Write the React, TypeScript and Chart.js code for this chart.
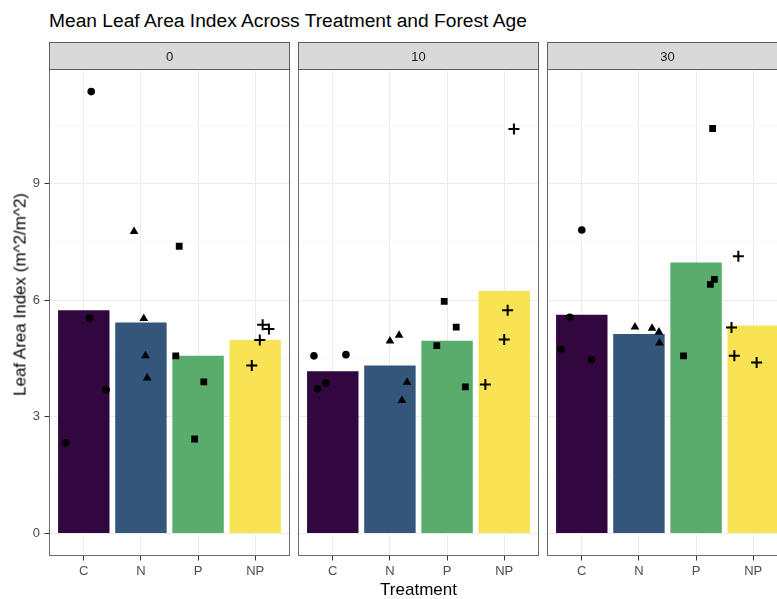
import React, { useEffect, useRef } from 'react';
import { Chart, registerables } from 'chart.js';

Chart.register(...registerables);

const FONT = '"Liberation Sans", Arial, Helvetica, sans-serif';

// Treatments and forest-age facets
const treatments = ['C', 'N', 'P', 'NP'];
const forestAges = ['0', '10', '30'];
const barColors = ['#32063F', '#33567A', '#5AAC6C', '#F8E355'];
const pointShapes = ['circle', 'triangle', 'rect', 'cross'];
const pointRadii = [3.8, 5, 4.8, 5.5];

// Mean leaf area index per treatment, one array per forest age
const meanLAI0 = [5.74, 5.43, 4.57, 4.98];
const meanLAI10 = [4.17, 4.32, 4.96, 6.24];
const meanLAI30 = [5.63, 5.13, 6.97, 5.35];

// Plot-level LAI (rows: C, N, P, NP)
const plotLAI0 = [
  [11.37, 5.54, 3.7, 2.33],
  [7.77, 5.53, 4.57, 4.0],
  [7.39, 4.57, 3.9, 2.43],
  [5.37, 5.26, 4.98, 4.32],
];
const plotLAI10 = [
  [4.57, 4.6, 3.72, 3.87],
  [4.95, 5.1, 3.89, 3.42],
  [5.97, 5.31, 4.83, 3.77],
  [10.41, 5.74, 4.99, 3.83],
];
const plotLAI30 = [
  [7.81, 5.56, 4.73, 4.47],
  [5.31, 5.28, 5.18, 4.9],
  [10.42, 6.54, 6.41, 4.57],
  [7.13, 5.3, 4.57, 4.4],
];

// Horizontal jitter of each plot point (category units)
const jitter0 = [
  [0.13, 0.1, 0.39, -0.32],
  [-0.12, 0.05, 0.08, 0.11],
  [-0.33, -0.39, 0.1, -0.06],
  [0.13, 0.24, 0.08, -0.06],
];
const jitter10 = [
  [-0.33, 0.23, -0.27, -0.12],
  [0.0, 0.16, 0.3, 0.21],
  [-0.05, 0.16, -0.18, 0.32],
  [0.17, 0.06, 0.0, -0.33],
];
const jitter30 = [
  [0.0, -0.21, -0.36, 0.17],
  [-0.07, 0.23, 0.35, 0.36],
  [0.29, 0.32, 0.25, -0.22],
  [-0.26, -0.38, -0.33, 0.06],
];

const yMajorTicks = [0, 3, 6, 9];
const yAllTicks = [0, 1.5, 3, 4.5, 6, 7.5, 9, 10.5];

const facetMeans = [meanLAI0, meanLAI10, meanLAI30];
const facetPlots = [plotLAI0, plotLAI10, plotLAI30];
const facetJitter = [jitter0, jitter10, jitter30];

// y range with 5% expansion around [0, max]
const allValues = facetPlots.flat(2);
const dataMax = Math.max(...allValues);
const yPad = dataMax * 0.05;
const Y_MIN = -yPad;
const Y_MAX = dataMax + yPad;

const TOP = 69.5;
const X_AXIS_H = 43.5;

const panelBorder = {
  id: 'panelBorder',
  afterDraw(chart: any) {
    const { ctx, chartArea: a } = chart;
    ctx.save();
    ctx.strokeStyle = '#6b6b6b';
    ctx.lineWidth = 1;
    ctx.strokeRect(a.left, a.top, a.right - a.left, a.bottom - a.top);
    ctx.restore();
  },
};

type PanelProps = {
  facet: number;
  left: number;
  width: number;
  padLeft: number;
  padRight: number;
  showY: boolean;
};

function Panel({ facet, left, width, padLeft, padRight, showY }: PanelProps) {
  const ref = useRef<HTMLCanvasElement>(null);

  useEffect(() => {
    if (!ref.current) return;
    const means = facetMeans[facet];
    const plots = facetPlots[facet];
    const jit = facetJitter[facet];

    const pointSets = treatments.map((t, i) => ({
      type: 'scatter' as const,
      label: `${t} plots`,
      data: plots[i].map((v, k) => ({ x: i + jit[i][k], y: v })),
      pointStyle: pointShapes[i],
      pointRadius: pointRadii[i],
      backgroundColor: '#000000',
      borderColor: '#000000',
      borderWidth: i === 3 ? 2 : 0,
      showLine: false,
      order: 1,
    }));

    const barSet = {
      type: 'bar' as const,
      label: 'Mean LAI',
      data: means.map((m, i) => ({ x: i, y: m })),
      backgroundColor: barColors,
      borderWidth: 0,
      barPercentage: 0.9,
      categoryPercentage: 1,
      order: 2,
    };

    const isMinor = (ctx: any) => ctx.tick && yMajorTicks.indexOf(ctx.tick.value) < 0;

    const chart = new Chart(ref.current, {
      type: 'bar',
      data: { datasets: [...pointSets, barSet] as any },
      options: {
        animation: false,
        responsive: false,
        events: [],
        layout: {
          autoPadding: false,
          padding: { top: TOP, left: padLeft, right: padRight, bottom: 0 },
        },
        plugins: { legend: { display: false }, tooltip: { enabled: false } },
        scales: {
          x: {
            type: 'linear',
            min: -0.6,
            max: 3.6,
            offset: false,
            afterBuildTicks: (s: any) => {
              s.ticks = treatments.map((_, i) => ({ value: i }));
            },
            afterFit: (s: any) => {
              s.height = X_AXIS_H;
              s.paddingLeft = 0;
              s.paddingRight = 0;
            },
            ticks: {
              autoSkip: false,
              maxRotation: 0,
              padding: 3,
              color: '#4D4D4D',
              font: { family: FONT, size: 13 },
              callback: (_v: any, i: number) => treatments[i] ?? '',
            },
            grid: {
              offset: false,
              color: '#EBEBEB',
              lineWidth: 1,
              tickLength: 5,
              tickColor: '#333333',
              tickWidth: 1,
            },
            border: { display: false },
          },
          y: {
            type: 'linear',
            min: Y_MIN,
            max: Y_MAX,
            afterBuildTicks: (s: any) => {
              s.ticks = yAllTicks.map((v) => ({ value: v }));
            },
            afterFit: (s: any) => {
              s.width = showY ? 49.5 : 0;
            },
            ticks: {
              display: showY,
              autoSkip: false,
              padding: 4.5,
              color: '#4D4D4D',
              font: { family: FONT, size: 13 },
              callback: (v: any) => (yMajorTicks.indexOf(v) >= 0 ? String(v) : ''),
            },
            grid: {
              color: (ctx: any) => (isMinor(ctx) ? '#F0F0F0' : '#EBEBEB'),
              lineWidth: (ctx: any) => (isMinor(ctx) ? 0.6 : 1),
              drawTicks: showY,
              tickLength: 5,
              tickColor: (ctx: any) => (isMinor(ctx) ? 'rgba(0,0,0,0)' : '#333333'),
              tickWidth: 1,
            },
            border: { display: false },
          },
        },
      },
      plugins: [panelBorder],
    });
    return () => chart.destroy();
  }, [facet, padLeft, padRight, showY]);

  return (
    <canvas
      ref={ref}
      width={width}
      height={599}
      style={{ position: 'absolute', left, top: 0, width, height: 599 }}
    />
  );
}

const stripStyle = (left: number): React.CSSProperties => ({
  position: 'absolute',
  left,
  top: 42,
  width: 241,
  height: 28,
  boxSizing: 'border-box',
  border: '1px solid #5e5e5e',
  background: '#D9D9D9',
  color: '#1A1A1A',
  fontFamily: FONT,
  fontSize: 13,
  lineHeight: '26px',
  paddingTop: 1,
  textAlign: 'center',
});

export default function App() {
  const strips = [49, 298, 547];
  return (
    <div
      style={{
        position: 'absolute',
        left: 0,
        top: 0,
        width: 777,
        height: 599,
        overflow: 'hidden',
        background: '#FFFFFF',
        fontFamily: FONT,
      }}
    >
      <div
        style={{
          position: 'absolute',
          left: 49,
          top: 11.4,
          fontSize: 19.2,
          lineHeight: '19.2px',
          color: '#000000',
          whiteSpace: 'nowrap',
        }}
      >
        Mean Leaf Area Index Across Treatment and Forest Age
      </div>

      <Panel facet={0} left={0} width={290} padLeft={0} padRight={0.5} showY={true} />
      <Panel facet={1} left={290} width={250} padLeft={8.5} padRight={1.5} showY={false} />
      <Panel facet={2} left={540} width={250} padLeft={7.5} padRight={2.5} showY={false} />

      {forestAges.map((age, i) => (
        <div key={age} style={stripStyle(strips[i])}>
          {age}
        </div>
      ))}

      <div
        style={{
          position: 'absolute',
          left: 49.5,
          width: 738,
          top: 580.6,
          fontSize: 17,
          lineHeight: '17px',
          textAlign: 'center',
          color: '#000000',
          whiteSpace: 'nowrap',
        }}
      >
        Treatment
      </div>

      <div
        style={{
          position: 'absolute',
          left: 19.5 - 150,
          top: 294 - 8.5,
          width: 300,
          height: 17,
          fontSize: 17,
          lineHeight: '17px',
          textAlign: 'center',
          color: '#000000',
          whiteSpace: 'nowrap',
          transform: 'rotate(-90deg)',
        }}
      >
        Leaf Area Index (m^2/m^2)
      </div>
    </div>
  );
}
